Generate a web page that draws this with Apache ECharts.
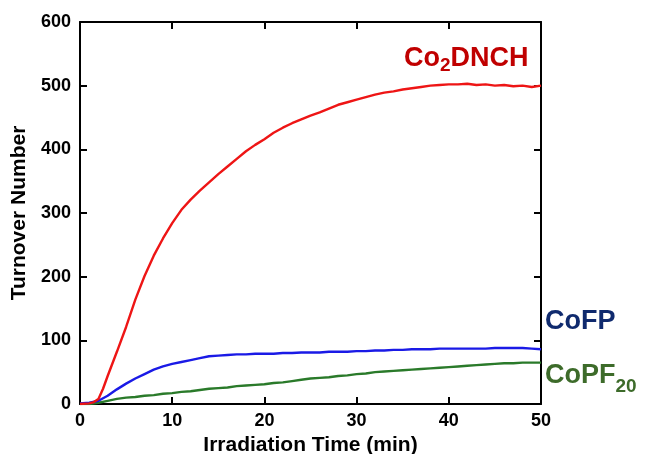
<!DOCTYPE html>
<html>
<head>
<meta charset="utf-8">
<script src="https://cdn.jsdelivr.net/npm/echarts@6/dist/echarts.min.js"></script>
<style>
html,body{margin:0;padding:0;background:#fff;}
#chart{width:646px;height:454px;}
</style>
</head>
<body>
<div id="chart"></div>
<script>
// Irradiation time (min) sample points
var timeRed = [0,1,1.5,2,2.5,3,4,5,6,7,8,9,10,11,12,13,14,15,16,17,18,19,20,21,22,23,24,25,26,27,28,29,30,31,32,33,34,35,36,37,38,39,40,41,42,43,44,45,46,47,48,49,50];
var co2dnch = [0,1,3,8,24,44,82,121,164,201,233,260,284,305,321,335,348,361,373,385,397,407,416,426,434,441,447,453,458,464,470,474,478,482,486,489,491,494,496,498,500,501,502,502,503,501,502,500,501,499,500,498,500];

var timeMin = [0,1,2,3,4,5,6,7,8,9,10,11,12,13,14,15,16,17,18,19,20,21,22,23,24,25,26,27,28,29,30,31,32,33,34,35,36,37,38,39,40,41,42,43,44,45,46,47,48,49,50];
var cofp = [1,2,5,13,23,32,40,47,54,59,63,66,69,72,75,76,77,78,78,79,79,79,80,80,81,81,81,82,82,82,83,83,84,84,85,85,86,86,86,87,87,87,87,87,87,88,88,88,88,87,86];
var copf20 = [0,0,2,5,8,10,11,13,14,16,17,19,20,22,24,25,26,28,29,30,31,33,34,36,38,40,41,42,44,45,47,48,50,51,52,53,54,55,56,57,58,59,60,61,62,63,64,64,65,65,65];

var xTicks = {min:0, max:50, interval:10};
var yTicks = {min:0, max:600, interval:100};

function pairs(xs, ys){ return xs.map(function(x,i){ return [x, ys[i]]; }); }

var FONT = 'Liberation Sans, Arial, sans-serif';
var axisLineStyle = {color:'#000', width:2};
var tickStyle = {show:true, inside:true, length:7, lineStyle:{color:'#000', width:2}};
var labelStyle = {color:'#000', fontSize:18, fontWeight:'bold', fontFamily:FONT};

var chart = echarts.init(document.getElementById('chart'), null, {renderer:'canvas'});
chart.setOption({
  animation:false,
  backgroundColor:'#fff',
  grid:{left:80, right:105, top:22, bottom:50, containLabel:false, outerBoundsMode:'none'},
  xAxis:[{
    type:'value', position:'bottom', min:xTicks.min, max:xTicks.max, interval:xTicks.interval,
    name:'Irradiation Time (min)', nameLocation:'middle', nameGap:31,
    nameTextStyle:{color:'#000', fontSize:21, fontWeight:'bold', fontFamily:FONT},
    axisLine:{show:true, onZero:false, lineStyle:axisLineStyle},
    axisTick:tickStyle, splitLine:{show:false},
    axisLabel:Object.assign({margin:8}, labelStyle)
  },{
    type:'value', position:'top', min:xTicks.min, max:xTicks.max, interval:xTicks.interval,
    axisLine:{show:true, onZero:false, lineStyle:axisLineStyle},
    axisTick:tickStyle, splitLine:{show:false}, axisLabel:{show:false}
  }],
  yAxis:[{
    type:'value', position:'left', min:yTicks.min, max:yTicks.max, interval:yTicks.interval,
    name:'Turnover Number', nameLocation:'middle', nameGap:48,
    nameTextStyle:{color:'#000', fontSize:21, fontWeight:'bold', fontFamily:FONT},
    axisLine:{show:true, onZero:false, lineStyle:axisLineStyle},
    axisTick:tickStyle, splitLine:{show:false},
    axisLabel:Object.assign({margin:9}, labelStyle)
  },{
    type:'value', position:'right', min:yTicks.min, max:yTicks.max, interval:yTicks.interval,
    axisLine:{show:true, onZero:false, lineStyle:axisLineStyle},
    axisTick:tickStyle, splitLine:{show:false}, axisLabel:{show:false}
  }],
  series:[
    {name:'CoPF20', type:'line', data:pairs(timeMin, copf20), showSymbol:false, symbol:'none',
     lineStyle:{color:'#2a7a2a', width:2.4}, z:3},
    {name:'CoFP', type:'line', data:pairs(timeMin, cofp), showSymbol:false, symbol:'none',
     lineStyle:{color:'#1a1ae6', width:2.4}, z:4},
    {name:'Co2DNCH', type:'line', data:pairs(timeRed, co2dnch), showSymbol:false, symbol:'none',
     lineStyle:{color:'#ee1515', width:2.4}, z:5}
  ],
  graphic:[
    {type:'text', left:404, top:45, z:10, style:{
      text:'{m|Co}{s|2}{m|DNCH}',
      rich:{
        m:{fontSize:27, fontWeight:'bold', fontFamily:FONT, fill:'#c00000', lineHeight:27, verticalAlign:'top'},
        s:{fontSize:19, fontWeight:'bold', fontFamily:FONT, fill:'#c00000', lineHeight:19, padding:[11,0,0,0], verticalAlign:'top'}
      }
    }},
    {type:'text', left:545, top:308, z:10, style:{
      text:'CoFP', fontSize:27, fontWeight:'bold', fontFamily:FONT, fill:'#0f2a6e'
    }},
    {type:'text', left:545, top:362, z:10, style:{
      text:'{m|CoPF}{s|20}',
      rich:{
        m:{fontSize:27, fontWeight:'bold', fontFamily:FONT, fill:'#3d6b2a', lineHeight:27, verticalAlign:'top'},
        s:{fontSize:19, fontWeight:'bold', fontFamily:FONT, fill:'#3d6b2a', lineHeight:19, padding:[15,0,0,0], verticalAlign:'top'}
      }
    }}
  ]
});
</script>
</body>
</html>
